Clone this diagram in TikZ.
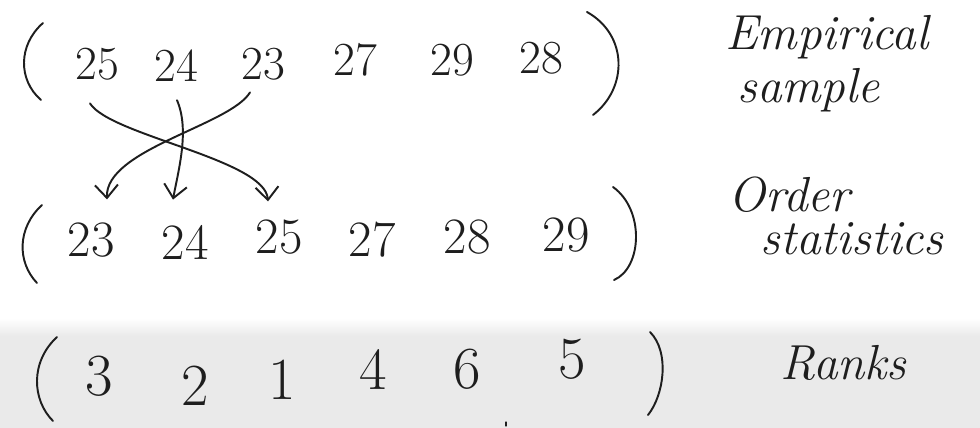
\documentclass[tikz,border=0pt]{standalone}
\usetikzlibrary{arrows.meta}
\definecolor{ink}{HTML}{1E1E1E}
\definecolor{bandgray}{HTML}{EAEAEA}
\begin{document}
\begin{tikzpicture}[x=0.02cm,y=-0.02cm,
  ink line/.style={draw=ink,line width=1.1pt,line cap=round,line join=round},
  arr/.style={ink line,-{Straight Barb[length=2.6mm,width=4.6mm,line width=1.1pt]}},
  numA/.style={text=ink,inner sep=0pt,font=\fontsize{27}{29}\selectfont},
  numB/.style={text=ink,inner sep=0pt,font=\fontsize{29}{31}\selectfont},
  numC/.style={text=ink,inner sep=0pt,font=\fontsize{34}{36}\selectfont},
  lbl/.style={text=ink,inner sep=0pt,anchor=base west,font=\itshape\fontsize{28}{30}\selectfont}]
% background
\fill[white] (0,0) rectangle (980,428);
\shade[top color=white,bottom color=bandgray] (0,318) rectangle (980,336);
\fill[bandgray] (0,336) rectangle (980,428);
\useasboundingbox (0,0) rectangle (980,428);

% row 1: empirical sample
\node[numA] (r1a) at (97,64) {25};
\node[numA] (r1b) at (176,66) {24};
\node[numA] (r1c) at (263,64) {23};
\node[numA] (r1d) at (355,60) {27};
\node[numA] (r1e) at (452,60) {29};
\node[numA] (r1f) at (541,58) {28};
\draw[ink line] (43,23) .. controls (18,45) and (18,80) .. (41,100);
\draw[ink line] (587,12) .. controls (628,35) and (628,88) .. (593,115);

% row 2: order statistics
\node[numB] (r2a) at (91,240) {23};
\node[numB] (r2b) at (185,242) {24};
\node[numB] (r2c) at (279,237) {25};
\node[numB] (r2d) at (372,240) {27};
\node[numB] (r2e) at (467,237) {28};
\node[numB] (r2f) at (566,235) {29};
\draw[ink line] (42,205) .. controls (17,228) and (17,262) .. (37,283);
\draw[ink line] (613,187) .. controls (645,210) and (642,268) .. (614,280);

% row 3: ranks
\node[numC] (r3a) at (99,376) {3};
\node[numC] (r3b) at (195,386) {2};
\node[numC] (r3c) at (282,380) {1};
\node[numC] (r3d) at (373,370) {4};
\node[numC] (r3e) at (467,369) {6};
\node[numC] (r3f) at (572,359) {5};
\draw[ink line] (57,337) .. controls (30,362) and (32,400) .. (53,421);
\draw[ink line] (650,332) .. controls (670,352) and (664,395) .. (648,415);
\draw[ink line,line width=0.6pt] (506,422) -- (506,426);

% arrows (sample -> order statistics)
\draw[arr] ([shift={(-7,23)}]r1a.south) .. controls +(20,32) and +(-3,-42) .. ([shift={(-11,-18)}]r2c.north);
\draw[arr] ([shift={(1,18)}]r1b.south) .. controls +(13,30) and +(5,-28) .. ([shift={(-12,-25)}]r2b.north);
\draw[arr] ([shift={(-13,12)}]r1c.south) .. controls +(-20,33) and +(-2,-50) .. ([shift={(16,-23)}]r2a.north);

% labels
\node[lbl] (l1a) at (725,50) {Empirical};
\node[lbl] (l1b) at (737,103) {sample};
\node[lbl] (l2a) at (728,212) {Order};
\node[lbl] (l2b) at (760,255) {statistics};
\node[lbl] (l3) at (780,380) {Ranks};
\end{tikzpicture}
\end{document}
